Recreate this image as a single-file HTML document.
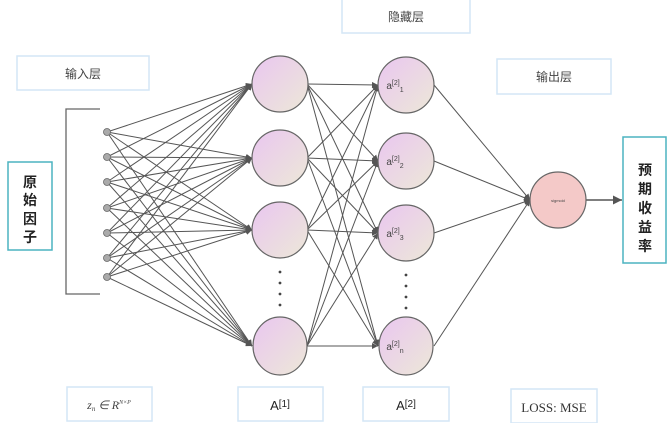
<!DOCTYPE html>
<html><head><meta charset="utf-8"><style>
body{margin:0;background:#fff;width:672px;height:423px;overflow:hidden;font-family:"Liberation Sans","Noto Sans CJK SC",sans-serif}
</style></head><body>
<svg width="672" height="423" viewBox="0 0 672 423" xmlns="http://www.w3.org/2000/svg">
<defs>
<linearGradient id="g" x1="0" y1="0" x2="1" y2="1"><stop offset="0" stop-color="#eac6f0"/><stop offset="1" stop-color="#ece8d8"/></linearGradient>
<marker id="ar" markerWidth="6" markerHeight="6" refX="6" refY="3" orient="auto"><path d="M0,0L6,3L0,6z" fill="#555"/></marker>
</defs>
<g fill="#fff" stroke="#d4e6f6" stroke-width="1.5">
<rect x="17" y="56" width="132" height="34"/>
<rect x="342" y="-2" width="128" height="35"/>
<rect x="497" y="59" width="114" height="35"/>
<rect x="67" y="387" width="85" height="34"/>
<rect x="238" y="387" width="85" height="34"/>
<rect x="363" y="387" width="86" height="34"/>
<rect x="511" y="389" width="86" height="34"/>
</g>
<rect x="8" y="162" width="44" height="88" fill="#fff" stroke="#4bb3c0" stroke-width="1.5"/>
<rect x="623" y="137" width="43" height="126" fill="#fff" stroke="#4bb3c0" stroke-width="1.5"/>
<path d="M100,109H66V294H100" fill="none" stroke="#666" stroke-width="1.3"/>
<g stroke="#555" stroke-width="1" marker-end="url(#ar)">
<line x1="107" y1="132" x2="252" y2="84"/><line x1="107" y1="132" x2="252" y2="158"/><line x1="107" y1="132" x2="252" y2="230"/><line x1="107" y1="132" x2="252" y2="346"/>
<line x1="107" y1="157" x2="252" y2="84"/><line x1="107" y1="157" x2="252" y2="158"/><line x1="107" y1="157" x2="252" y2="230"/><line x1="107" y1="157" x2="252" y2="346"/>
<line x1="107" y1="182" x2="252" y2="84"/><line x1="107" y1="182" x2="252" y2="158"/><line x1="107" y1="182" x2="252" y2="230"/><line x1="107" y1="182" x2="252" y2="346"/>
<line x1="107" y1="208" x2="252" y2="84"/><line x1="107" y1="208" x2="252" y2="158"/><line x1="107" y1="208" x2="252" y2="230"/><line x1="107" y1="208" x2="252" y2="346"/>
<line x1="107" y1="233" x2="252" y2="84"/><line x1="107" y1="233" x2="252" y2="158"/><line x1="107" y1="233" x2="252" y2="230"/><line x1="107" y1="233" x2="252" y2="346"/>
<line x1="107" y1="258" x2="252" y2="84"/><line x1="107" y1="258" x2="252" y2="158"/><line x1="107" y1="258" x2="252" y2="230"/><line x1="107" y1="258" x2="252" y2="346"/>
<line x1="107" y1="277" x2="252" y2="84"/><line x1="107" y1="277" x2="252" y2="158"/><line x1="107" y1="277" x2="252" y2="230"/><line x1="107" y1="277" x2="252" y2="346"/>
<line x1="307" y1="84" x2="378" y2="85"/><line x1="307" y1="84" x2="378" y2="161"/><line x1="307" y1="84" x2="378" y2="233"/><line x1="307" y1="84" x2="378" y2="346"/>
<line x1="307" y1="158" x2="378" y2="85"/><line x1="307" y1="158" x2="378" y2="161"/><line x1="307" y1="158" x2="378" y2="233"/><line x1="307" y1="158" x2="378" y2="346"/>
<line x1="307" y1="230" x2="378" y2="85"/><line x1="307" y1="230" x2="378" y2="161"/><line x1="307" y1="230" x2="378" y2="233"/><line x1="307" y1="230" x2="378" y2="346"/>
<line x1="307" y1="346" x2="378" y2="85"/><line x1="307" y1="346" x2="378" y2="161"/><line x1="307" y1="346" x2="378" y2="233"/><line x1="307" y1="346" x2="378" y2="346"/>
<line x1="434" y1="85" x2="530" y2="200"/><line x1="434" y1="161" x2="530" y2="200"/><line x1="434" y1="233" x2="530" y2="200"/><line x1="434" y1="346" x2="530" y2="200"/>
<line x1="586" y1="200" x2="622" y2="200" stroke-width="1.5"/>
</g>
<g fill="#aaa" stroke="#666" stroke-width="0.8">
<circle cx="107" cy="132" r="3.5"/><circle cx="107" cy="157" r="3.5"/><circle cx="107" cy="182" r="3.5"/><circle cx="107" cy="208" r="3.5"/><circle cx="107" cy="233" r="3.5"/><circle cx="107" cy="258" r="3.5"/><circle cx="107" cy="277" r="3.5"/>
</g>
<g fill="url(#g)" stroke="#666" stroke-width="1.2">
<circle cx="280" cy="84" r="28"/><circle cx="280" cy="158" r="28"/><circle cx="280" cy="230" r="28"/><ellipse cx="280" cy="346" rx="27" ry="29"/>
<circle cx="406" cy="85" r="28"/><circle cx="406" cy="161" r="28"/><circle cx="406" cy="233" r="28"/><ellipse cx="406" cy="346" rx="27" ry="29"/>
</g>
<circle cx="558" cy="200" r="28" fill="#f4c9c8" stroke="#666" stroke-width="1.2"/>
<g fill="#444"><circle cx="280" cy="272" r="1.4"/><circle cx="280" cy="283" r="1.4"/><circle cx="280" cy="294" r="1.4"/><circle cx="280" cy="305" r="1.4"/>
<circle cx="406" cy="275" r="1.4"/><circle cx="406" cy="286" r="1.4"/><circle cx="406" cy="297" r="1.4"/><circle cx="406" cy="308" r="1.4"/></g>
<g font-size="12" fill="#444" text-anchor="middle">
<text x="83" y="78">输入层</text><text x="406" y="21">隐藏层</text><text x="554" y="81">输出层</text>
<text x="395" y="89" font-size="10">a<tspan font-size="7" dy="-4">[2]</tspan><tspan font-size="7" dy="7">1</tspan></text>
<text x="395" y="165" font-size="10">a<tspan font-size="7" dy="-4">[2]</tspan><tspan font-size="7" dy="7">2</tspan></text>
<text x="395" y="237" font-size="10">a<tspan font-size="7" dy="-4">[2]</tspan><tspan font-size="7" dy="7">3</tspan></text>
<text x="395" y="350" font-size="10">a<tspan font-size="7" dy="-4">[2]</tspan><tspan font-size="7" dy="7">n</tspan></text>
<text x="558" y="202" font-size="4">sigmoid</text>
<text x="109" y="409" font-size="12" font-family="Liberation Serif" font-style="italic">z<tspan font-size="7" dy="2">n</tspan><tspan dy="-2"> ∈ R</tspan><tspan font-size="6" dy="-5">N×P</tspan></text>
<text x="280" y="410" font-size="13" fill="#222">A<tspan font-size="10" dy="-3">[1]</tspan></text>
<text x="406" y="410" font-size="13" fill="#222">A<tspan font-size="10" dy="-3">[2]</tspan></text>
<text x="554" y="412" font-size="13" font-family="Liberation Serif" fill="#333">LOSS: MSE</text>
</g>
<g font-size="14" font-weight="bold" fill="#222" text-anchor="middle">
<text x="30" y="187">原</text><text x="30" y="205">始</text><text x="30" y="224">因</text><text x="30" y="242">子</text>
<text x="645" y="175">预</text><text x="645" y="194">期</text><text x="645" y="213">收</text><text x="645" y="232">益</text><text x="645" y="251">率</text>
</g>
</svg>
</body></html>
